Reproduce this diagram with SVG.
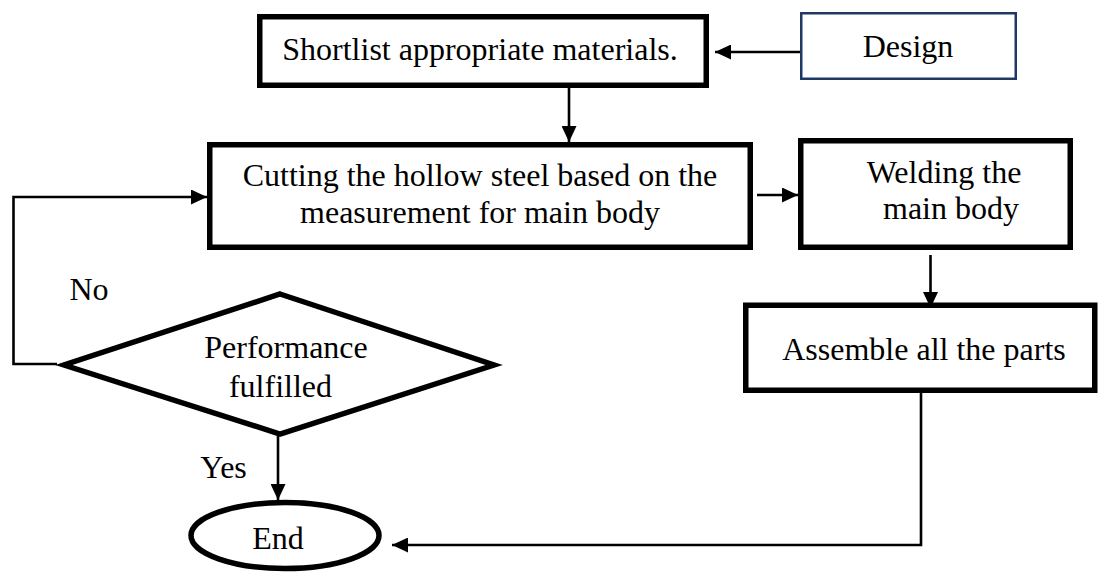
<svg xmlns="http://www.w3.org/2000/svg" width="1099" height="572" viewBox="0 0 1099 572">
<defs>
<marker id="ah" markerUnits="userSpaceOnUse" markerWidth="16" markerHeight="15" refX="16" refY="7.5" orient="auto">
<path d="M0,0 L16,7.5 L0,15 z" fill="#000"/>
</marker>
</defs>
<rect width="1099" height="572" fill="#fff"/>
<g id="connectors" fill="none" stroke="#000" stroke-width="2.6">
<line x1="800" y1="52" x2="715" y2="52" marker-end="url(#ah)"/>
<line x1="569" y1="88" x2="569" y2="142" marker-end="url(#ah)"/>
<line x1="757" y1="195" x2="798" y2="195" marker-end="url(#ah)"/>
<line x1="930.5" y1="255" x2="930.5" y2="308" marker-end="url(#ah)"/>
<polyline points="921,393 921,545 392,545" marker-end="url(#ah)"/>
<line x1="278" y1="436" x2="278" y2="500" marker-end="url(#ah)"/>
<polyline points="57,364 13.5,364 13.5,197 207,197" marker-end="url(#ah)"/>
</g>
<g id="labels" font-family="Liberation Serif" font-size="32" text-anchor="middle" fill="#000">
<text x="89" y="300">No</text>
<text x="223.5" y="478">Yes</text>
</g>
<g id="shortlist" font-family="Liberation Serif" font-size="32" text-anchor="middle">
<rect x="259.75" y="16.75" width="446.5" height="68.5" fill="#fff" stroke="#000" stroke-width="5.5"/>
<text x="480" y="60">Shortlist appropriate materials.</text>
</g>
<g id="design" font-family="Liberation Serif" font-size="32" text-anchor="middle">
<rect x="801.25" y="13.25" width="214.5" height="65.5" fill="#fff" stroke="#1f3864" stroke-width="2.5"/>
<text x="908" y="57">Design</text>
</g>
<g id="cutting" font-family="Liberation Serif" font-size="32" text-anchor="middle">
<rect x="209.75" y="144.75" width="540.5" height="102.5" fill="#fff" stroke="#000" stroke-width="5.5"/>
<text x="480" y="186">Cutting the hollow steel based on the</text>
<text x="480" y="223">measurement for main body</text>
</g>
<g id="welding" font-family="Liberation Serif" font-size="32" text-anchor="middle">
<rect x="800.75" y="140.75" width="269.5" height="106.5" fill="#fff" stroke="#000" stroke-width="5.5"/>
<text x="944" y="183">Welding the</text>
<text x="951" y="219">main body</text>
</g>
<g id="assemble" font-family="Liberation Serif" font-size="32" text-anchor="middle">
<rect x="745.75" y="305.25" width="349" height="85" fill="#fff" stroke="#000" stroke-width="5.5"/>
<text x="924" y="360">Assemble all the parts</text>
</g>
<g id="decision" font-family="Liberation Serif" font-size="32" text-anchor="middle">
<polygon points="280,294 494,365 280,434 64,365" fill="#fff" stroke="#000" stroke-width="5.5"/>
<text x="286" y="358">Performance</text>
<text x="280.5" y="397">fulfilled</text>
</g>
<g id="end" font-family="Liberation Serif" font-size="32" text-anchor="middle">
<ellipse cx="285" cy="535.5" rx="94" ry="33" fill="#fff" stroke="#000" stroke-width="5.5"/>
<text x="278" y="549">End</text>
</g>
</svg>
